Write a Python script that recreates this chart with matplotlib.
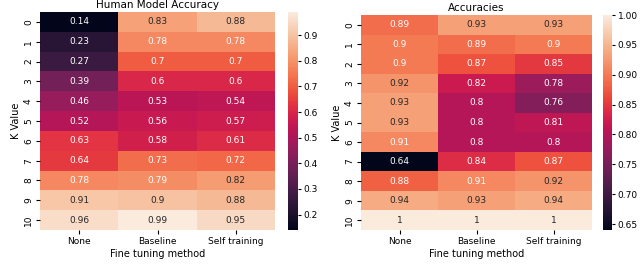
import numpy as np
import matplotlib
matplotlib.use("Agg")
import matplotlib.pyplot as plt
import seaborn as sns

methods = ["None", "Baseline", "Self training"]
k_values = [str(i) for i in range(11)]

human_none = [0.14, 0.23, 0.27, 0.39, 0.46, 0.52, 0.63, 0.64, 0.78, 0.91, 0.96]
human_baseline = [0.83, 0.78, 0.70, 0.60, 0.53, 0.56, 0.58, 0.73, 0.79, 0.90, 0.99]
human_self = [0.88, 0.78, 0.70, 0.60, 0.54, 0.57, 0.61, 0.72, 0.82, 0.88, 0.95]

acc_none = [0.89, 0.90, 0.90, 0.92, 0.93, 0.93, 0.91, 0.64, 0.88, 0.94, 1.0]
acc_baseline = [0.93, 0.89, 0.87, 0.82, 0.80, 0.80, 0.80, 0.84, 0.91, 0.93, 1.0]
acc_self = [0.93, 0.90, 0.85, 0.78, 0.76, 0.81, 0.80, 0.87, 0.92, 0.94, 1.0]

plt.rcParams['font.family'] = ['DejaVu Sans']
plt.rcParams['font.size'] = 7

W, H = 640, 279
fig = plt.figure(figsize=(W / 100, H / 100), dpi=100)

def box(x0, x1, y0, y1):
    return [x0 / W, (H - y1) / H, (x1 - x0) / W, (y1 - y0) / H]

ax1 = fig.add_axes(box(40, 275, 12, 230))
cax1 = fig.add_axes(box(288, 298, 12, 230))
ax2 = fig.add_axes(box(361, 592, 15, 230))
cax2 = fig.add_axes(box(603, 612, 15, 230))

human = np.array([human_none, human_baseline, human_self]).T
acc = np.array([acc_none, acc_baseline, acc_self]).T

sns.heatmap(human, annot=True, fmt=".2g", ax=ax1, cbar_ax=cax1,
            xticklabels=methods, yticklabels=k_values,
            annot_kws={"fontsize": 6.5})
ax1.set_title("Human Model Accuracy", fontsize=7.5, pad=3)
ax1.set_xlabel("Fine tuning method", fontsize=7, labelpad=2)
ax1.set_ylabel("K Value", fontsize=7, labelpad=2)

sns.heatmap(acc, annot=True, fmt=".2g", ax=ax2, cbar_ax=cax2,
            xticklabels=methods, yticklabels=k_values,
            annot_kws={"fontsize": 6.5})
ax2.set_title("Accuracies", fontsize=7.5, pad=3)
ax2.set_xlabel("Fine tuning method", fontsize=7, labelpad=2)
ax2.set_ylabel("K Value", fontsize=7, labelpad=2)

for ax in (ax1, ax2):
    ax.tick_params(labelsize=6.5, length=3, pad=2)
for cax in (cax1, cax2):
    cax.tick_params(labelsize=6.5, length=2.5, pad=1.5)
cax2.yaxis.set_major_formatter(matplotlib.ticker.FormatStrFormatter("%.2f"))

fig.savefig("out.png", dpi=100)
